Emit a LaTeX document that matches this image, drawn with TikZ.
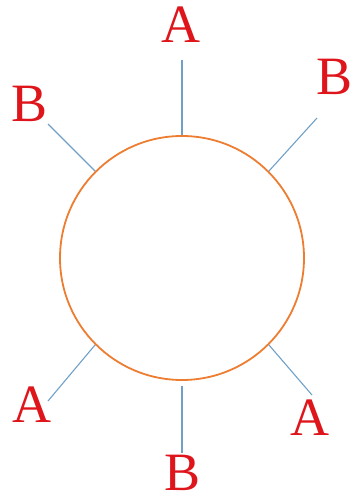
\documentclass[tikz,border=0pt]{standalone}
\usepackage{fontspec}
\setmainfont{Liberation Serif}
\definecolor{lblred}{RGB}{222,22,28}
\definecolor{ringorange}{RGB}{237,125,49}
\definecolor{spokeblue}{RGB}{112,160,200}
\begin{document}
\begin{tikzpicture}[x=1pt,y=-1pt,
  lbl/.style={text=lblred,font=\fontsize{54}{58}\selectfont,inner sep=0pt},
  spoke/.style={draw=spokeblue,line width=1.1pt},
  ring/.style={circle,draw=ringorange,line width=1.8pt,minimum size=244pt,inner sep=0pt}]
\useasboundingbox (0,0) rectangle (354,503);
\node[ring] (c) at (182,258) {};
% labels
\node[lbl] (tA) at (181,25) {A};
\node[lbl] (tlB) at (30,104) {B};
\node[lbl] (trB) at (335,77) {B};
\node[lbl] (blA) at (32,405) {A};
\node[lbl] (bB) at (183,473) {B};
\node[lbl] (brA) at (310,418) {A};
% spoke ends
\coordinate (eT) at (182,60);
\coordinate (eTL) at (48,124);
\coordinate (eTR) at (317,118);
\coordinate (eBL) at (48,401);
\coordinate (eB) at (182,453);
\coordinate (eBR) at (312,395);
\coordinate (sB) at (182,386);
\draw[spoke] (c.90) -- (eT);
\draw[spoke] (c.135) -- (eTL);
\draw[spoke] (c.45) -- (eTR);
\draw[spoke] (c.225) -- (eBL);
\draw[spoke] (sB) -- (eB);
\draw[spoke] (c.315) -- (eBR);
\end{tikzpicture}
\end{document}
